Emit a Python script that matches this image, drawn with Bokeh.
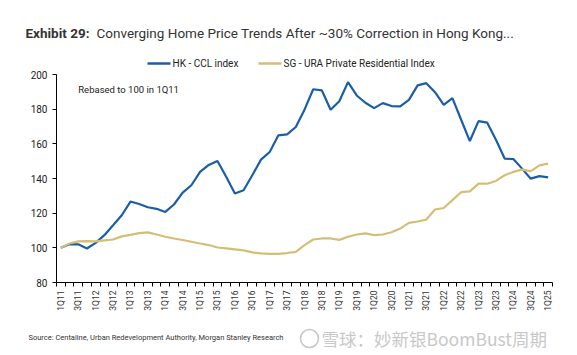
import math
from bokeh.plotting import figure
from bokeh.layouts import column
from bokeh.models import Range1d, FixedTicker, Label, ColumnDataSource
from bokeh.embed import file_html
from bokeh.resources import INLINE

# ---- data ----
quarters = [f"{q}Q{y:02d}" for y in range(11, 26) for q in (1, 2, 3, 4)][:57]
hk_ccl = [100.0, 102.1, 102.0, 99.6, 102.9, 107.3, 113.0, 118.8, 126.7, 125.3,
          123.4, 122.5, 120.7, 125.0, 131.9, 136.1, 143.8, 147.8, 150.1, 141.0,
          131.3, 133.2, 141.9, 150.9, 155.3, 164.9, 165.5, 169.7, 179.7, 191.5,
          190.8, 179.7, 184.6, 195.6, 187.9, 183.7, 180.6, 183.5, 181.8, 181.6,
          185.4, 193.7, 195.0, 189.8, 182.5, 186.4, 173.9, 161.6, 173.1, 172.2,
          162.4, 151.5, 151.2, 145.7, 139.9, 141.4, 140.7]
sg_ura = [100.0, 102.5, 103.7, 103.9, 103.7, 104.3, 104.8, 106.6, 107.5, 108.5,
          108.9, 107.7, 106.4, 105.4, 104.5, 103.5, 102.5, 101.6, 100.2, 99.7,
          99.1, 98.5, 97.4, 96.8, 96.5, 96.5, 97.0, 97.7, 101.6, 104.8,
          105.4, 105.4, 104.6, 106.4, 107.7, 108.3, 107.3, 107.7, 109.0, 111.1,
          114.4, 115.2, 116.3, 122.1, 123.0, 127.5, 132.1, 132.6, 137.0, 137.0,
          138.6, 141.9, 143.8, 145.1, 144.3, 147.6, 148.6]
y_ticks = [80, 100, 120, 140, 160, 180, 200]
series_names = ["HK - CCL index", "SG - URA Private Residential Index"]
series_colors = ["#1b5ea8", "#d6bd76"]

# ---- layout ----
W, H = 577, 355
TOP_H, BOT_H = 70, 30
MAIN_H = H - TOP_H - BOT_H
FL, FR = 56, 552
FT, FB = 74 - TOP_H, 282 - TOP_H
N = len(quarters)
Y0, Y1 = 80, 200
FONT = "Roboto"


def blank_fig(h):
    f = figure(width=W, height=h, output_backend="svg", toolbar_location=None,
               x_range=Range1d(0, W), y_range=Range1d(h, 0),
               x_axis_location=None, y_axis_location=None,
               min_border=0, min_border_left=0, min_border_right=0,
               min_border_top=0, min_border_bottom=0, frame_align=False)
    f.outline_line_color = None
    f.xgrid.visible = False
    f.ygrid.visible = False
    return f


def add_text(f, x, y, txt, size, color, style="normal", font=FONT):
    f.add_layout(Label(x=x, y=y, text=txt, text_font=font, text_font_size=size,
                       text_color=color, text_font_style=style,
                       text_baseline="middle", text_align="left"))


# header: title + legend
top = blank_fig(TOP_H)
add_text(top, 25, 32, "Exhibit 29:", "13.5px", "#333333", "bold")
add_text(top, 96, 32, "Converging Home Price Trends After ~30% Correction in Hong Kong...",
         "13.5px", "#333333")
leg_x = [147, 258]
for lx, name, col in zip(leg_x, series_names, series_colors):
    top.segment(x0=lx, y0=63, x1=lx + 23, y1=63, line_color=col, line_width=2.5)
    add_text(top, lx + 25, 63, name, "10px", "#222222")

# main chart
p = figure(width=W, height=MAIN_H, output_backend="svg", toolbar_location=None,
           x_range=Range1d(-0.5, N - 0.5), y_range=Range1d(Y0, Y1),
           min_border_left=FL, min_border_right=W - FR,
           min_border_top=FT, min_border_bottom=MAIN_H - FB, frame_align=False)
p.outline_line_color = None
p.xgrid.visible = False
p.ygrid.visible = False

src = ColumnDataSource(dict(x=list(range(N)), hk=hk_ccl, sg=sg_ura))
p.line("x", "hk", source=src, line_color=series_colors[0], line_width=2.2)
p.line("x", "sg", source=src, line_color=series_colors[1], line_width=2.2)

xa = p.xaxis[0]
xa.ticker = FixedTicker(ticks=list(range(0, N, 2)),
                        minor_ticks=[i - 0.5 for i in range(N + 1)])
xa.major_label_overrides = {i: quarters[i] for i in range(0, N, 2)}
xa.major_tick_in = 0
xa.major_tick_out = 0
xa.minor_tick_in = 0
xa.minor_tick_out = 4
xa.minor_tick_line_color = "black"
xa.axis_line_color = "black"
xa.major_label_orientation = math.pi / 2
xa.major_label_text_font = FONT
xa.major_label_text_font_size = "8.5px"
xa.major_label_text_color = "#333333"
xa.major_label_standoff = 4

ya = p.yaxis[0]
ya.ticker = FixedTicker(ticks=y_ticks)
ya.major_tick_in = 0
ya.major_tick_out = 4
ya.minor_tick_line_color = None
ya.axis_line_color = "black"
ya.major_tick_line_color = "black"
ya.major_label_text_font = FONT
ya.major_label_text_font_size = "10px"
ya.major_label_text_color = "#222222"
ya.major_label_standoff = 5

p.add_layout(Label(x=2.0, y=191.5, text="Rebased to 100 in 1Q11", text_font=FONT,
                   text_font_size="9.5px", text_color="#222222",
                   text_baseline="middle", text_align="left"))

# footer: source + watermark
bot = blank_fig(BOT_H)
add_text(bot, 28, 337 - (H - BOT_H),
         "Source: Centaline, Urban Redevelopment Authority, Morgan Stanley Research",
         "7.5px", "#333333")
bot.scatter(x=[309], y=[338 - (H - BOT_H)], size=18, marker="circle",
            fill_color=None, line_color="#c8c8c8", line_width=1.6)
add_text(bot, 321, 338 - (H - BOT_H), "雪球：妙新银BoomBust周期", "17.5px", "#c8c8c8",
         font="Noto Sans CJK SC")

layout = column(top, p, bot, spacing=0)
open("out.html", "w").write(file_html(layout, INLINE))
